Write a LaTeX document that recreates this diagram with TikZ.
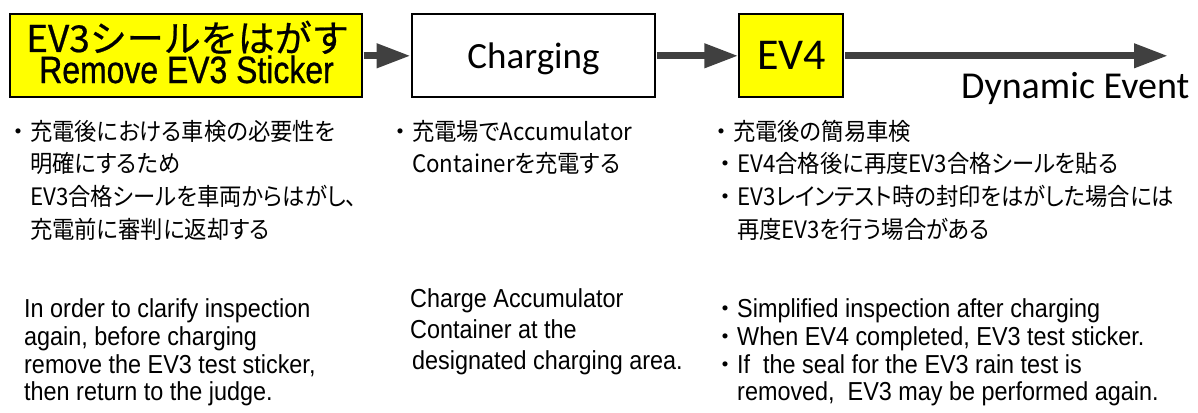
\documentclass[tikz,border=0pt]{standalone}
\usepackage{fontspec}
\setmainfont{Liberation Sans}
\newfontfamily\jpfont[RawFeature=+palt, FakeStretch=0.93]{Noto Sans CJK JP}
\newfontfamily\jpfull{Noto Sans CJK JP}
\newfontfamily\jpbox[FakeBold=0.6]{Noto Sans CJK JP}
\newfontfamily\enbody[FakeStretch=0.9]{Liberation Sans}
\newfontfamily\enbox[FakeStretch=0.84, FakeBold=0.8]{Liberation Sans}
\newfontfamily\calib{Carlito}
\usetikzlibrary{arrows.meta}

\definecolor{flowarrow}{HTML}{404040}
\definecolor{stagefill}{HTML}{FFFF00}

% full-width bullet hung to the left of the text start
\newcommand{\hangdot}{\llap{\jpfull\fontsize{24}{24}\selectfont ・}}

\begin{document}
\begin{tikzpicture}[x=1pt,y=-1pt,
  stage/.style={draw=black, line width=2pt, minimum height=83pt, inner sep=0pt},
  flow/.style={draw=flowarrow, line width=7pt, -{Triangle[length=34pt,width=23pt]}},
  boxtext/.style={anchor=base, inner sep=0pt},
  jp/.style={font=\jpfont\fontsize{24}{24}\selectfont, anchor=base west, inner sep=0pt},
  en/.style={font=\enbody\fontsize{26}{26}\selectfont, anchor=base west, inner sep=0pt}]

\useasboundingbox (0,0) rectangle (1198,412);

% process stages
\node[stage, fill=stagefill, minimum width=352pt] (remove) at (185.5,55.8) {};
\node[stage, fill=white, minimum width=243.3pt] (charge) at (533.3,55.8) {};
\node[stage, fill=stagefill, minimum width=103.7pt] (ev4) at (791.2,55.8) {};
\coordinate (end) at (1168,55.8);

\node[boxtext, font=\jpbox\fontsize{37}{37}\selectfont] (removejp) at (187.5,52) {EV3シールをはがす};
\node[boxtext, font=\enbox\fontsize{38}{38}\selectfont] (removeen) at (186.5,83) {Remove EV3 Sticker};
\node[boxtext, font=\calib\fontsize{37}{37}\selectfont] (chargetxt) at (533.5,68) {Charging};
\node[boxtext, font=\calib\fontsize{44}{44}\selectfont] (ev4txt) at (791.5,70) {EV4};

% flow
\draw[flow, shorten <=1pt] (remove.east) -- (charge.west);
\draw[flow, shorten <=1pt] (charge.east) -- (ev4.west);
\draw[flow, shorten <=1pt] (ev4.east) -- (end);

\node[font=\calib\fontsize{38}{38}\selectfont, anchor=base west, inner sep=0pt] (dyn) at (961,98) {Dynamic Event};

% notes, first stage
\node[jp] (a1) at (30,140) {\hangdot 充電後における車検の必要性を};
\node[jp] (a2) at (30,172.5) {明確にするため};
\node[jp] (a3) at (30,205.5) {EV3合格シールを車両からはがし、};
\node[jp] (a4) at (30,238) {充電前に審判に返却する};

\node[en] (e1) at (24,317.5) {In order to clarify inspection};
\node[en] (e2) at (24,345.5) {again, before charging};
\node[en] (e3) at (24,373) {remove the EV3 test sticker,};
\node[en] (e4) at (24,400.5) {then return to the judge.};

% notes, charging
\node[jp] (b1) at (412,140) {\hangdot 充電場でAccumulator};
\node[jp] (b2) at (412,172.5) {Containerを充電する};

\node[en] (f1) at (410,307) {Charge Accumulator};
\node[en] (f2) at (410,338) {Container at the};
\node[en] (f3) at (412,369) {designated charging area.};

% notes, EV4
\node[jp] (c1) at (733,140) {\hangdot 充電後の簡易車検};
\node[jp] (c2) at (737,172.5) {\hangdot EV4合格後に再度EV3合格シールを貼る};
\node[jp] (c3) at (737,205.5) {\hangdot EV3レインテスト時の封印をはがした場合には};
\node[jp] (c4) at (737,238) {再度EV3を行う場合がある};

\node[en] (g1) at (737,317.5) {\hangdot Simplified inspection after charging};
\node[en] (g2) at (737,345.5) {\hangdot When EV4 completed, EV3 test sticker.};
\node[en] (g3) at (737,373) {\hangdot If\ \ the seal for the EV3 rain test is};
\node[en] (g4) at (737,400.5) {removed,\ \ EV3 may be performed again.};
\end{tikzpicture}
\end{document}
